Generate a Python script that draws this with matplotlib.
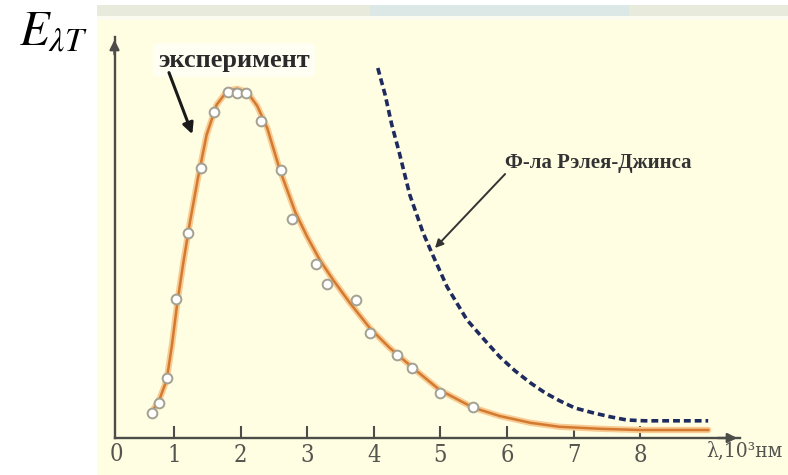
import matplotlib
matplotlib.use('Agg')
import matplotlib.pyplot as plt
from matplotlib import font_manager as fm
from matplotlib.patches import Rectangle

# experiment points (lambda in 10^3 nm, E in arbitrary units)
exp_x = [0.67, 0.77, 0.89, 1.03, 1.21, 1.41, 1.60, 1.81, 1.95, 2.08, 2.31,
         2.61, 2.77, 3.13, 3.30, 3.73, 3.94, 4.35, 4.57, 4.99, 5.49]
exp_y = [0.63, 0.88, 1.50, 3.48, 5.13, 6.75, 8.15, 8.65, 8.63, 8.63, 7.93,
         6.70, 5.48, 4.35, 3.85, 3.45, 2.63, 2.08, 1.75, 1.13, 0.78]

curve_x = [0.67, 0.79, 0.89, 0.97, 1.05, 1.14, 1.24, 1.36, 1.49, 1.64, 1.80,
           1.95, 2.10, 2.25, 2.40, 2.59, 2.82, 3.00, 3.19, 3.39, 3.64, 3.94,
           4.24, 4.59, 4.99, 5.49, 5.89, 6.35, 6.79, 7.40, 8.00, 9.02]
curve_y = [0.65, 1.00, 1.45, 2.33, 3.38, 4.38, 5.40, 6.50, 7.58, 8.33, 8.68,
           8.73, 8.65, 8.30, 7.75, 6.70, 5.65, 5.03, 4.45, 3.95, 3.38, 2.75,
           2.25, 1.75, 1.20, 0.76, 0.55, 0.38, 0.28, 0.23, 0.20, 0.20]

# Rayleigh-Jeans curve
rj_x = [4.06, 4.17, 4.27, 4.38, 4.54, 4.74, 4.87, 5.10, 5.40, 5.70, 5.89,
        6.12, 6.35, 6.57, 6.79, 7.02, 7.29, 7.55, 7.80, 8.07, 9.02]
rj_y = [9.25, 8.58, 7.83, 7.15, 6.08, 5.13, 4.63, 3.78, 2.95, 2.38, 2.03,
        1.68, 1.38, 1.13, 0.93, 0.75, 0.63, 0.53, 0.45, 0.43, 0.43]

ticks = [1, 2, 3, 4, 5, 6, 7, 8]
tick_labels = ['1', '2', '3', '4', '5', '6', '7', '8']

W, H = 788, 475
def fx(px):
    return px / W
def fy(py):
    return 1 - py / H

names = {f.name for f in fm.fontManager.ttflist}
serif = 'Liberation Serif' if 'Liberation Serif' in names else 'DejaVu Serif'
cond = fm.FontProperties(family='DejaVu Serif', stretch='condensed', size=17)

axis_col = '#4c4c48'
text_col = '#555550'

fig = plt.figure(figsize=(7.88, 4.75), dpi=100)

# yellow panel and the light strip on top
fig.add_artist(Rectangle((fx(97), 0), 1 - fx(97), fy(20), transform=fig.transFigure,
                         facecolor='#FFFDE2', edgecolor='none', zorder=0))
fig.add_artist(Rectangle((fx(97), fy(20)), 1 - fx(97), fy(16) - fy(20), transform=fig.transFigure,
                         facecolor='#FBFBF0', edgecolor='none', zorder=0))
fig.add_artist(Rectangle((fx(97), fy(16)), 1 - fx(97), fy(5) - fy(16), transform=fig.transFigure,
                         facecolor='#E8EBDC', edgecolor='none', zorder=0))
fig.add_artist(Rectangle((fx(370), fy(16)), fx(629) - fx(370), fy(5) - fy(16), transform=fig.transFigure,
                         facecolor='#DCE8E5', edgecolor='none', zorder=0))

ax = fig.add_axes([fx(114.5), fy(438), fx(740) - fx(114.5), fy(37) - fy(438)])
ax.set_facecolor('none')
ax.set_xlim(0.107, 9.498)
ax.set_ylim(0, 10.025)
for s in ['top', 'right']:
    ax.spines[s].set_visible(False)
for s in ['left', 'bottom']:
    ax.spines[s].set_color(axis_col)
    ax.spines[s].set_linewidth(1.7)

ax.set_xticks(ticks)
ax.set_xticklabels(tick_labels)
ax.set_yticks([])
ax.tick_params(axis='x', direction='in', length=9, width=1.5, color=axis_col,
               pad=4, labelcolor=text_col)
for lab in ax.get_xticklabels():
    lab.set_fontproperties(cond)
ax.text(0.13, -0.13, '0', fontproperties=cond, color=text_col, ha='center', va='top')

# axis arrows
ax.annotate('', xy=(0, 1.0), xytext=(0, 0.95), xycoords='axes fraction',
            arrowprops=dict(arrowstyle='-|>', color=axis_col, lw=1.7, mutation_scale=14))
ax.annotate('', xy=(1.0, 0), xytext=(0.96, 0), xycoords='axes fraction',
            arrowprops=dict(arrowstyle='-|>', color=axis_col, lw=1.7, mutation_scale=14))

# curves
ax.plot(curve_x, curve_y, color='#F7CB92', lw=4.5, solid_capstyle='round', zorder=2, clip_on=False)
ax.plot(curve_x, curve_y, color='#D47A30', lw=1.8, zorder=3, clip_on=False)
ax.plot(rj_x, rj_y, color='#1E2B5E', lw=2.6, dashes=(1.9, 1.1), zorder=3, clip_on=False)
ax.plot(exp_x, exp_y, 'o', ms=7, mfc='white', mec='#A3A191', mew=1.4, zorder=4, clip_on=False)

# labels
ax.text(1.90, 9.45, 'эксперимент', fontsize=19, fontweight='bold', family=serif,
        ha='center', va='center', color='#2a2a2a',
        bbox=dict(boxstyle='round,pad=0.2', fc='white', ec='none', alpha=0.6))
ax.annotate('', xy=(1.29, 7.53), xytext=(0.91, 9.2),
            arrowprops=dict(arrowstyle='-|>', color='#1a1a1a', lw=2.2, mutation_scale=16))

ax.text(5.97, 6.88, 'Ф-ла Рэлея-Джинса', fontsize=15, fontweight='bold', family=serif,
        ha='left', va='center', color='#333333')
ax.annotate('', xy=(4.89, 4.70), xytext=(6.0, 6.65),
            arrowprops=dict(arrowstyle='-|>', color='#333333', lw=1.4, mutation_scale=12))

fig.text(fx(706), fy(451), 'λ,10³нм', fontproperties=cond, fontsize=15, color=text_col,
         ha='left', va='center')
fig.text(fx(19), fy(45), r'$E_{\lambda T}$', fontsize=35, math_fontfamily='stix',
         ha='left', va='baseline', color='black')

fig.savefig('out.png', dpi=100)
